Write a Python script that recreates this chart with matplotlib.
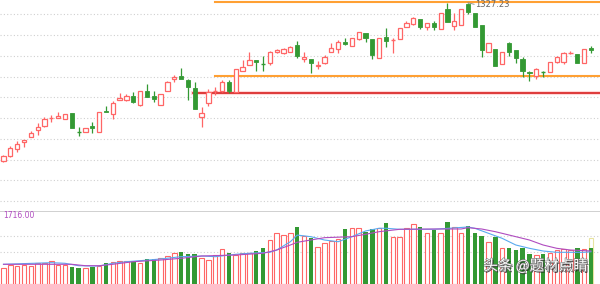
"""Candlestick chart with volume panel (index daily K-line, 87 sessions)."""

import matplotlib.pyplot as plt
import matplotlib.patheffects as pe
import numpy as np

RED = "#ff6666"
GREEN = "#339933"
LINE_RED = "#d81e1e"
ORANGE = "#ffa033"
GRID = "#d0d0d0"
BLUE = "#5aaaf0"
PURPLE = "#b04cc0"

# price data, one entry per session
opens = [1169, 1174, 1181, 1188, 1193, 1200, 1204, 1212, 1212, 1211,
         1217, 1198.3, 1198, 1204, 1198, 1219, 1216, 1230, 1230, 1234,
         1225, 1239, 1234, 1225, 1239, 1251, 1254, 1250, 1242, 1213,
         1227, 1239, 1239, 1248, 1238, 1259, 1265, 1270, 1266.3, 1267,
         1278, 1277, 1278, 1285, 1271, 1271, 1264, 1267, 1278, 1281,
         1288, 1284, 1291, 1297, 1291, 1272, 1293, 1290, 1291, 1303,
         1306, 1311, 1303, 1307, 1301, 1321, 1304, 1305, 1326, 1317,
         1305, 1278, 1281, 1266, 1287, 1280, 1271, 1258, 1254, 1258.3,
         1258, 1268, 1268, 1277, 1276, 1267, 1282]
highs = [1175, 1184, 1189, 1190, 1199, 1207, 1213, 1215, 1218, 1216,
         1217, 1203, 1202, 1208, 1218, 1224, 1229, 1237, 1236, 1238,
         1239, 1246, 1239, 1236, 1249, 1255, 1262, 1251, 1248, 1223,
         1241, 1243, 1250, 1250, 1261, 1270, 1278, 1270, 1274, 1279,
         1281, 1282, 1284, 1289, 1278, 1271, 1269, 1275, 1287, 1290,
         1292, 1292, 1298, 1297, 1291, 1292, 1302, 1292, 1302, 1309,
         1313, 1311, 1307, 1309, 1317, 1327, 1317, 1321, 1327.23, 1317,
         1305, 1287, 1281, 1278, 1288, 1280, 1273, 1259, 1262, 1259,
         1268, 1274, 1278, 1279, 1276, 1281, 1284]
lows = [1168, 1173, 1178, 1183, 1193, 1195, 1203, 1208, 1212, 1211,
        1202, 1194, 1198, 1197, 1198, 1218, 1211, 1230, 1229, 1227,
        1224, 1233, 1228, 1225, 1239, 1248, 1251, 1230, 1221, 1203,
        1224, 1235, 1238, 1237, 1238, 1259, 1265, 1259, 1259, 1265,
        1277, 1276, 1278, 1272, 1268, 1257, 1261, 1266, 1278, 1277,
        1285, 1284, 1290, 1288, 1271, 1272, 1283, 1277, 1291, 1303,
        1305, 1301, 1300, 1300, 1301, 1308, 1300, 1305, 1316, 1303,
        1273, 1278, 1264, 1266, 1274, 1267, 1253, 1249, 1251, 1253,
        1258, 1267, 1266, 1276, 1267, 1267, 1277]
closes = [1174, 1182, 1186, 1190, 1197, 1203, 1211, 1212, 1214, 1216,
          1202, 1198, 1202, 1202, 1218, 1218, 1227, 1232, 1234, 1228,
          1239, 1233, 1231, 1236, 1248, 1253, 1251, 1243, 1221, 1217,
          1238, 1239.3, 1248, 1239, 1261, 1263, 1270, 1268, 1266, 1278,
          1280, 1281, 1283, 1274, 1273, 1267, 1265, 1273, 1282, 1288,
          1286, 1292, 1298, 1292, 1275, 1292, 1289, 1290.3, 1302, 1307,
          1312, 1303, 1307, 1303, 1317, 1308, 1309, 1321, 1318, 1303,
          1280, 1287, 1264, 1278, 1278, 1272, 1259, 1257, 1261, 1258,
          1268, 1273, 1277, 1277.3, 1267, 1281, 1280]
volumes = [383, 447, 423, 447, 423, 501, 487, 548, 447, 447,
           407, 369, 383, 407, 423, 487, 524, 548, 548, 548,
           487, 581, 581, 604, 665, 722, 759, 698, 698, 618,
           564, 682, 823, 736, 682, 722, 722, 783, 839, 1034,
           1206, 1152, 1192, 1333, 1128, 1074, 877, 957, 1011, 1051,
           1293, 1324, 1310, 1215, 1286, 1310, 1441, 1112, 1112, 1310,
           1404, 1333, 1206, 1270, 1206, 1451, 1333, 1206, 1371, 1192,
           1136, 994, 1098, 853, 839, 799, 839, 698, 682, 698,
           736, 799, 823, 799, 853, 823, 839]
last_volume_est = 1089

# volume moving averages read at selected sessions
ma5_idx = [0, 7, 9, 11, 13, 14, 16, 18, 20, 23, 26, 29, 31, 34, 36, 39, 40,
           42, 43, 45, 47, 49, 51, 53, 55, 56, 58, 63, 68, 69, 71, 73, 75,
           77, 79, 81, 83, 85, 86]
ma5 = [463, 501, 487, 430, 423, 423, 487, 524, 548, 588, 642, 658, 642,
       698, 722, 745, 799, 994, 1150, 1112, 1034, 994, 1112, 1246, 1310,
       1310, 1286, 1286, 1340, 1310, 1192, 1074, 917, 839, 776, 745, 745,
       745, 759]
ma10_idx = [0, 10, 12, 14, 16, 19, 23, 26, 29, 34, 38, 40, 42, 43, 47, 51,
            53, 55, 58, 63, 67, 68, 70, 72, 74, 77, 79, 81, 83, 86]
ma10 = [463, 463, 430, 430, 463, 524, 564, 604, 658, 682, 722, 799, 917,
        980, 1089, 1112, 1168, 1230, 1286, 1293, 1293, 1324, 1293, 1230,
        1152, 1034, 917, 839, 799, 776]

# reference levels
high_label = "1327.23"
high_level = 1327.9
support_level = 1254
base_level = 1237
vol_max_label = "1716.00"


def main():
    plt.rcParams["font.family"] = ["Noto Sans CJK SC", "DejaVu Sans"]
    fig = plt.figure(figsize=(6.0, 2.84), dpi=100)
    fig.patch.set_facecolor("white")
    ax = fig.add_axes([0, 73 / 284, 1, 211 / 284])
    axv = fig.add_axes([0, 0, 1, 73 / 284])

    o = np.array(opens)
    h = np.array(highs)
    l = np.array(lows)
    c = np.array(closes)
    x = np.arange(len(o))
    up = c >= o
    xlim = (-0.51, 87.33)

    # price panel
    for yy in np.arange(1315.7, 1120, -20.75):
        ax.axhline(yy, color=GRID, lw=0.8, ls=(0, (1, 2)), zorder=0)
    ax.plot([27.7, xlim[1]], [base_level] * 2, color=LINE_RED, lw=1.2, zorder=1)
    ax.plot([27.7, xlim[1]], [base_level] * 2, color="#ffb0b0", lw=3, alpha=0.5, zorder=0.9)
    ax.plot([31.0, xlim[1]], [support_level] * 2, color=ORANGE, lw=1.5, zorder=1)
    ax.plot([31.0, xlim[1]], [high_level] * 2, color=ORANGE, lw=1.5, zorder=1)

    w = 0.62
    for i in x:
        col = RED if up[i] else GREEN
        lo_b, hi_b = min(o[i], c[i]), max(o[i], c[i])
        ax.vlines(i, l[i], lo_b, color=col, lw=0.9, zorder=2)
        ax.vlines(i, hi_b, h[i], color=col, lw=0.9, zorder=2)
        if hi_b - lo_b < 0.6:
            ax.hlines(lo_b, i - w / 2, i + w / 2, color=col, lw=1.0, zorder=3)
        elif up[i]:
            ax.add_patch(plt.Rectangle((i - w / 2, lo_b), w, hi_b - lo_b,
                                       facecolor="white", edgecolor=col,
                                       lw=0.9, zorder=3))
        else:
            ax.add_patch(plt.Rectangle((i - w / 2, lo_b), w, hi_b - lo_b,
                                       facecolor=col, edgecolor=col,
                                       lw=0.6, zorder=3))

    top = int(np.argmax(h))
    ax.plot([top, top + 0.9], [h[top], h[top] - 1.5], color="#888888", lw=0.6)
    ax.text(top + 1.0, h[top] - 2.2, high_label, fontsize=6, color="#666666",
            ha="left", va="center", family=["DejaVu Sans"])

    ax.set_xlim(*xlim)
    ax.set_ylim(1119, 1330)
    ax.axis("off")

    # volume panel
    for yy in [752, 1128]:
        axv.axhline(yy, color=GRID, lw=0.8, ls=(0, (1, 2)), zorder=0)
    axv.axhline(1716, color="#c8c8c8", lw=1.2, zorder=0)
    vw = 0.66
    for i in x:
        if up[i]:
            axv.bar(i, volumes[i], width=vw, facecolor="white",
                    edgecolor=RED, lw=0.8, zorder=2)
        else:
            axv.bar(i, volumes[i], width=vw, color=GREEN, lw=0, zorder=2)
    axv.bar(x[-1], last_volume_est, width=vw, facecolor="none",
            edgecolor="#e8e4a0", lw=0.8, zorder=1.5)
    axv.plot(ma5_idx, ma5, color=BLUE, lw=0.8, zorder=4)
    axv.plot(ma10_idx, ma10, color=PURPLE, lw=0.8, zorder=4)
    axv.text(0.0, 1600, vol_max_label, fontsize=5.5, color=PURPLE,
             ha="left", va="center", family=["DejaVu Sans"])
    axv.text(85.6, 420, "头条 @题材点睛", fontsize=10.5, color="white",
             ha="right", va="center", zorder=6,
             path_effects=[pe.withSimplePatchShadow(offset=(1, -1),
                                                    shadow_rgbFace="#222222",
                                                    alpha=0.8),
                           pe.withStroke(linewidth=0.8, foreground="#666666")])
    axv.set_xlim(*xlim)
    axv.set_ylim(0, 1716)
    axv.axis("off")

    fig.savefig("out.png", dpi=100, facecolor="white")


if __name__ == "__main__":
    main()
